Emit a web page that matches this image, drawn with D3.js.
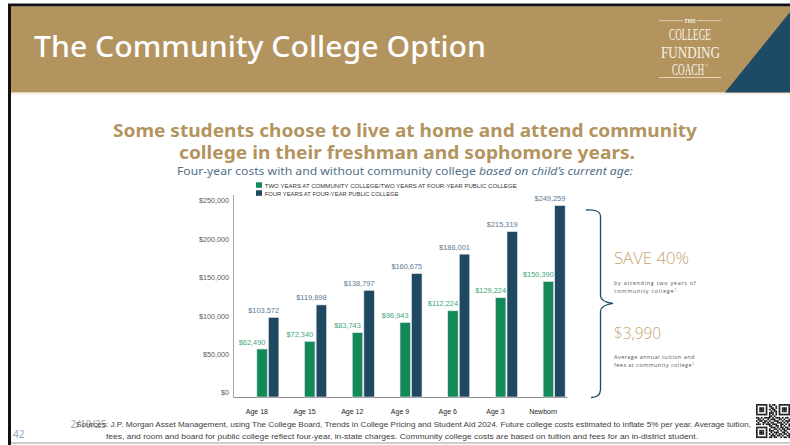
<!DOCTYPE html>
<html>
<head>
<meta charset="utf-8">
<script src="https://cdn.jsdelivr.net/npm/d3@7"></script>
<style>
  html, body { margin: 0; padding: 0; background: #fff; }
  svg { display: block; }
</style>
</head>
<body>
<div id="chart"></div>
<script>
const ages = ['Age 18', 'Age 15', 'Age 12', 'Age 9', 'Age 6', 'Age 3', 'Newborn'];
const communityCost = [62490, 72340, 83743, 96943, 112224, 129224, 150390];
const publicCost = [103572, 119898, 138797, 160675, 186001, 215319, 249259];
const yTicks = [0, 50000, 100000, 150000, 200000, 250000];
const seriesNames = [
  'TWO YEARS AT COMMUNITY COLLEGE/TWO YEARS AT FOUR-YEAR PUBLIC COLLEGE',
  'FOUR YEARS AT FOUR-YEAR PUBLIC COLLEGE'
];
const qrRows = [
  '111111101011001111111',
  '100000101100101000001',
  '101110100110101011101',
  '101110101011001011101',
  '101110100101101011101',
  '100000101110101000001',
  '111111101010101111111',
  '000000001101000000000',
  '110101111010111010110',
  '011010010111001101001',
  '101101101001110010111',
  '010011010110011101010',
  '111010111011100110101',
  '000000001100110101001',
  '111111100111010110110',
  '100000101001101011011',
  '101110101110010101100',
  '101110100101110011010',
  '101110101010101101101',
  '100000100111011010011',
  '111111101101100101101'
];

const width = 790;
const height = 445;

const green = '#13895a';
const navy = '#1f4863';
const tan = '#b3945f';

const svg = d3.select('#chart')
  .append('svg')
  .attr('width', width)
  .attr('height', height)
  .style('font-family', "'Noto Sans', 'Liberation Sans', sans-serif");

// slide frame + header
svg.append('rect').attr('x', 8).attr('y', 3).attr('width', 782).attr('height', 1.2).attr('fill', '#8a8a8a');
svg.append('rect').attr('x', 8).attr('y', 4).attr('width', 782).attr('height', 2.6).attr('fill', '#111');
svg.append('rect').attr('x', 8).attr('y', 4).attr('width', 3).attr('height', 441).attr('fill', '#111');
svg.append('rect').attr('x', 11).attr('y', 442.5).attr('width', 779).attr('height', 1).attr('fill', '#9a9a9a');
svg.append('rect').attr('x', 11).attr('y', 6.6).attr('width', 779).attr('height', 86).attr('fill', tan);
svg.append('rect').attr('x', 11).attr('y', 92.6).attr('width', 779).attr('height', 2).attr('fill', '#f4eee4');
svg.append('path').attr('d', 'M790,12 L725,92.6 L790,92.6 Z').attr('fill', '#1d4a64');

svg.append('text')
  .attr('x', 34).attr('y', 57)
  .attr('font-size', 28).attr('font-weight', 500)
  .attr('fill', '#fff')
  .attr('textLength', 452).attr('lengthAdjust', 'spacingAndGlyphs')
  .text('The Community College Option');

// logo
const logo = svg.append('g').attr('fill', '#f8f3ea').style('font-family', "'Liberation Serif', 'DejaVu Serif', serif");
logo.append('text').attr('x', 690).attr('y', 22.5).attr('text-anchor', 'middle').attr('font-size', 5.5)
  .attr('font-weight', 700).text('THE');
logo.append('rect').attr('x', 659).attr('y', 20.5).attr('width', 24).attr('height', 0.6);
logo.append('rect').attr('x', 697).attr('y', 20.5).attr('width', 24).attr('height', 0.6);
logo.append('text').attr('x', 669).attr('y', 39.5).attr('font-size', 16)
  .attr('textLength', 42).attr('lengthAdjust', 'spacingAndGlyphs').text('COLLEGE');
logo.append('text').attr('x', 661).attr('y', 57.5).attr('font-size', 17)
  .attr('textLength', 59).attr('lengthAdjust', 'spacingAndGlyphs').text('FUNDING');
const coach = logo.append('text').attr('x', 672).attr('y', 75).attr('font-size', 16);
coach.append('tspan').attr('textLength', 32).attr('lengthAdjust', 'spacingAndGlyphs').text('COACH');
coach.append('tspan').attr('dx', 1).attr('dy', -8).attr('font-size', 4).text('®');
logo.append('rect').attr('x', 659).attr('y', 77).attr('width', 62).attr('height', 0.7);

// headline
svg.append('text')
  .attr('x', 113).attr('y', 136.5)
  .attr('font-size', 17.5).attr('font-weight', 700).attr('fill', tan)
  .attr('textLength', 584).attr('lengthAdjust', 'spacingAndGlyphs')
  .text('Some students choose to live at home and attend community');
svg.append('text')
  .attr('x', 179).attr('y', 159)
  .attr('font-size', 17.5).attr('font-weight', 700).attr('fill', tan)
  .attr('textLength', 456).attr('lengthAdjust', 'spacingAndGlyphs')
  .text('college in their freshman and sophomore years.');
const sub = svg.append('text')
  .attr('x', 177).attr('y', 175)
  .attr('font-size', 11.5).attr('fill', '#52708a')
  .attr('textLength', 456).attr('lengthAdjust', 'spacingAndGlyphs');
sub.append('tspan').text('Four-year costs with and without community college ');
sub.append('tspan').attr('font-style', 'italic').text('based on child\u2019s current age:');

// chart
const xScale = d3.scaleBand()
  .domain(ages)
  .range([233, 567]);

const xSub = d3.scaleBand()
  .domain([0, 1])
  .range([xScale.bandwidth() / 2, xScale.bandwidth() / 2 + 22])
  .paddingInner(0.1);

const yScale = d3.scaleLinear()
  .domain([0, 250000])
  .range([397, 205]);

const fmt = d => '$' + d3.format(',')(d);

const yAxis = svg.append('g')
  .attr('transform', 'translate(233, 0)')
  .call(d3.axisLeft(yScale).tickValues(yTicks).tickSize(0).tickPadding(4).tickFormat(fmt));
yAxis.select('.domain').remove();
yAxis.selectAll('text')
  .attr('dy', '-0.3em')
  .attr('fill', '#595959')
  .style('font-family', "'Liberation Sans', sans-serif")
  .style('font-size', '7.2px');

svg.append('line')
  .attr('x1', 233.5).attr('x2', 233.5)
  .attr('y1', yScale(250000) - 10).attr('y2', 397.5)
  .attr('stroke', '#a6a6a6').attr('stroke-width', 1);

const xAxis = svg.append('g')
  .attr('transform', 'translate(0, 397)')
  .call(d3.axisBottom(xScale).tickSize(0).tickPadding(12));
xAxis.select('.domain').attr('stroke', '#8c8c8c').attr('stroke-width', 1.2);
xAxis.selectAll('text')
  .attr('fill', '#262626')
  .style('font-family', "'Liberation Sans', sans-serif")
  .style('font-size', '7px');

const groups = [
  { values: communityCost, color: green, label: '#3ea676', idx: 0 },
  { values: publicCost, color: navy, label: '#5b7991', idx: 1 }
];

groups.forEach(g => {
  const rows = ages.map((a, i) => ({ age: a, v: g.values[i] }));
  svg.append('g').selectAll('rect')
    .data(rows)
    .enter()
    .append('rect')
    .attr('x', d => xScale(d.age) + xSub(g.idx))
    .attr('y', d => yScale(d.v))
    .attr('width', xSub.bandwidth())
    .attr('height', d => 397 - yScale(d.v))
    .attr('fill', g.color)
    .attr('stroke', '#e3e3e3')
    .attr('stroke-width', 0.6);

  svg.append('g').selectAll('text')
    .data(rows)
    .enter()
    .append('text')
    .attr('x', d => xScale(d.age) + xSub(g.idx) + xSub.bandwidth() / 2 - 10)
    .attr('y', d => yScale(d.v) - 4.5)
    .attr('text-anchor', 'middle')
    .attr('fill', g.label)
    .style('font-family', "'Liberation Sans', sans-serif")
    .style('font-size', '7.4px')
    .text(d => fmt(d.v));
});

// legend
const legend = svg.append('g');
seriesNames.forEach((name, i) => {
  legend.append('rect')
    .attr('x', 256).attr('y', 182.3 + i * 8)
    .attr('width', 6).attr('height', 5.5)
    .attr('fill', i === 0 ? green : navy);
  legend.append('text')
    .attr('x', 264.7).attr('y', 187.6 + i * 8)
    .attr('font-size', 6).attr('fill', '#333')
    .style('font-family', "'Liberation Sans Narrow', 'Liberation Sans', sans-serif")
    .attr('textLength', i === 0 ? 252 : 134).attr('lengthAdjust', 'spacingAndGlyphs')
    .text(name);
});

// brace
svg.append('path')
  .attr('d', 'M586,210 Q600,209 600.5,216 L600.5,296 Q601,302 613,303.3 Q601,305 600.5,311 L600.5,390 Q600,397.5 591,397.5')
  .attr('fill', 'none')
  .attr('stroke', '#1f4a66')
  .attr('stroke-width', 1.3);

// side notes
const side = svg.append('g').style('font-family', "'Open Sans', 'Noto Sans', sans-serif");
side.append('text').attr('x', 614).attr('y', 264).attr('font-size', 16).attr('font-weight', 300)
  .attr('fill', '#c4a46f').attr('textLength', 75).attr('lengthAdjust', 'spacingAndGlyphs').text('SAVE 40%');
side.append('text').attr('x', 614).attr('y', 285).attr('font-size', 5.5).attr('fill', '#555')
  .attr('letter-spacing', 0.7).text('by attending two years  of');
const s1 = side.append('text').attr('x', 614).attr('y', 293).attr('font-size', 5.5).attr('fill', '#555')
  .attr('letter-spacing', 0.7);
s1.append('tspan').text('community college');
s1.append('tspan').attr('dy', -2.5).attr('font-size', 4).text('1');
side.append('text').attr('x', 614).attr('y', 338.5).attr('font-size', 16).attr('font-weight', 300)
  .attr('fill', '#c4a46f').attr('textLength', 47).attr('lengthAdjust', 'spacingAndGlyphs').text('$3,990');
side.append('text').attr('x', 614).attr('y', 359).attr('font-size', 5.5).attr('fill', '#555')
  .attr('letter-spacing', 0.45).text('Average annual tuition and');
const s2 = side.append('text').attr('x', 614).attr('y', 367).attr('font-size', 5.5).attr('fill', '#555')
  .attr('letter-spacing', 0.45);
s2.append('tspan').text('fees at community college');
s2.append('tspan').attr('dy', -2.5).attr('font-size', 4).text('1');

// footer
svg.append('text').attr('x', 70.5).attr('y', 428).attr('font-size', 10).attr('fill', '#a6a6a6')
  .text('2/19/25');
svg.append('text').attr('x', 76).attr('y', 426.5).attr('font-size', 7).attr('fill', '#404040')
  .style('font-family', "'Liberation Sans Narrow', 'Liberation Sans', sans-serif")
  .attr('textLength', 675).attr('lengthAdjust', 'spacingAndGlyphs')
  .text('Sources: J.P. Morgan Asset Management, using The College Board, Trends in College Pricing and Student Aid 2024. Future college costs estimated to inflate 5% per year. Average tuition,');
svg.append('text').attr('x', 106).attr('y', 438.5).attr('font-size', 7).attr('fill', '#404040')
  .style('font-family', "'Liberation Sans Narrow', 'Liberation Sans', sans-serif")
  .attr('textLength', 592).attr('lengthAdjust', 'spacingAndGlyphs')
  .text('fees, and room and board for public college reflect four-year, in-state charges. Community college costs are based on tuition and fees for an in-district student.');
svg.append('text').attr('x', 13).attr('y', 438).attr('font-size', 10).attr('fill', '#8ea4c8')
  .text('42');

// qr code
const qr = svg.append('g').attr('transform', 'translate(756, 404)');
const cell = 34 / qrRows.length;
qrRows.forEach((row, r) => {
  row.split('').forEach((b, c) => {
    if (b === '1') {
      qr.append('rect')
        .attr('x', c * cell).attr('y', r * cell)
        .attr('width', cell + 0.05).attr('height', cell + 0.05)
        .attr('fill', '#111');
    }
  });
});
</script>
</body>
</html>
